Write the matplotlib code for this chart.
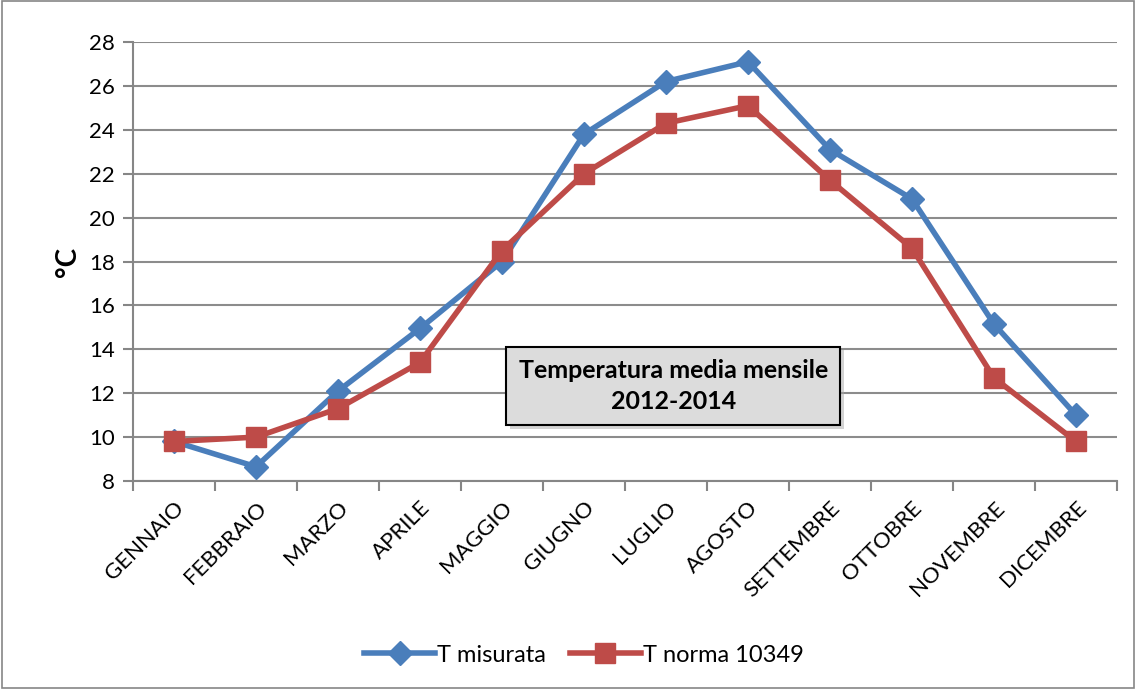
import matplotlib.pyplot as plt
from matplotlib.patches import Rectangle

months = ["GENNAIO", "FEBBRAIO", "MARZO", "APRILE", "MAGGIO", "GIUGNO",
          "LUGLIO", "AGOSTO", "SETTEMBRE", "OTTOBRE", "NOVEMBRE", "DICEMBRE"]
t_misurata = [9.8, 8.65, 12.1, 14.95, 18.0, 23.8, 26.2, 27.1, 23.1, 20.85, 15.15, 11.0]
t_norma = [9.8, 10.0, 11.3, 13.4, 18.5, 22.0, 24.3, 25.1, 21.7, 18.6, 12.7, 9.8]
y_ticks = list(range(8, 30, 2))

plt.rcParams['font.family'] = ['Lato', 'DejaVu Sans']

fig = plt.figure(figsize=(11.36, 6.89), dpi=100)
ax = fig.add_axes([133 / 1136, 1 - 481 / 689, 984 / 1136, 439 / 689])

# outer chart border
fig.add_artist(Rectangle((0.002, 0.002), 0.996, 0.996, transform=fig.transFigure,
                         fill=False, edgecolor='#868686', linewidth=1.2))

x = list(range(len(months)))
ax.plot(x, t_misurata, color='#4a7ebb', linewidth=4, marker='D', markersize=12,
        label='T misurata')
ax.plot(x, t_norma, color='#be4b48', linewidth=4, marker='s', markersize=14,
        label='T norma 10349')

ax.set_xlim(-0.5, len(months) - 0.5)
ax.set_ylim(8, 28)
ax.set_yticks(y_ticks)
ax.set_xticks(x)
ax.set_xticklabels(months, rotation=45, ha='right', rotation_mode='anchor', fontsize=16)
ax.set_xticks([i - 0.5 for i in range(len(months) + 1)], minor=True)
ax.tick_params(axis='x', which='major', length=0, pad=12)
ax.tick_params(axis='x', which='minor', length=7, color='#868686', width=1.5)
ax.tick_params(axis='y', length=7, color='#868686', width=1.5, labelsize=16, pad=6)
ax.grid(axis='y', color='#8c8c8c', linewidth=1.5)
ax.set_axisbelow(True)
for s in ['top', 'right']:
    ax.spines[s].set_visible(False)
for s in ['left', 'bottom']:
    ax.spines[s].set_color('#868686')
    ax.spines[s].set_linewidth(1.5)

ax.set_ylabel('°C', fontsize=20, fontweight='bold', labelpad=6)

# title box with a soft shadow
ax.text(0.553, 0.208, 'Temperatura media mensile\n2012-2014', transform=ax.transAxes,
        ha='center', va='center', fontsize=18, fontweight='bold', alpha=0.0,
        linespacing=1.4,
        bbox=dict(boxstyle='square,pad=0.5', facecolor='#a8a8a8', edgecolor='none', alpha=0.5),
        zorder=4)
ax.text(0.549, 0.216, 'Temperatura media mensile\n2012-2014', transform=ax.transAxes,
        ha='center', va='center', fontsize=18, fontweight='bold', linespacing=1.4,
        bbox=dict(boxstyle='square,pad=0.5', facecolor='#dcdcdc', edgecolor='black',
                  linewidth=1.5),
        zorder=5)

fig.legend(loc='center', bbox_to_anchor=(584 / 1136, 1 - 655 / 689), ncol=2,
           frameon=False, fontsize=17, handlelength=3, columnspacing=1.0,
           handletextpad=0.1)

fig.savefig('out.png', dpi=100)
